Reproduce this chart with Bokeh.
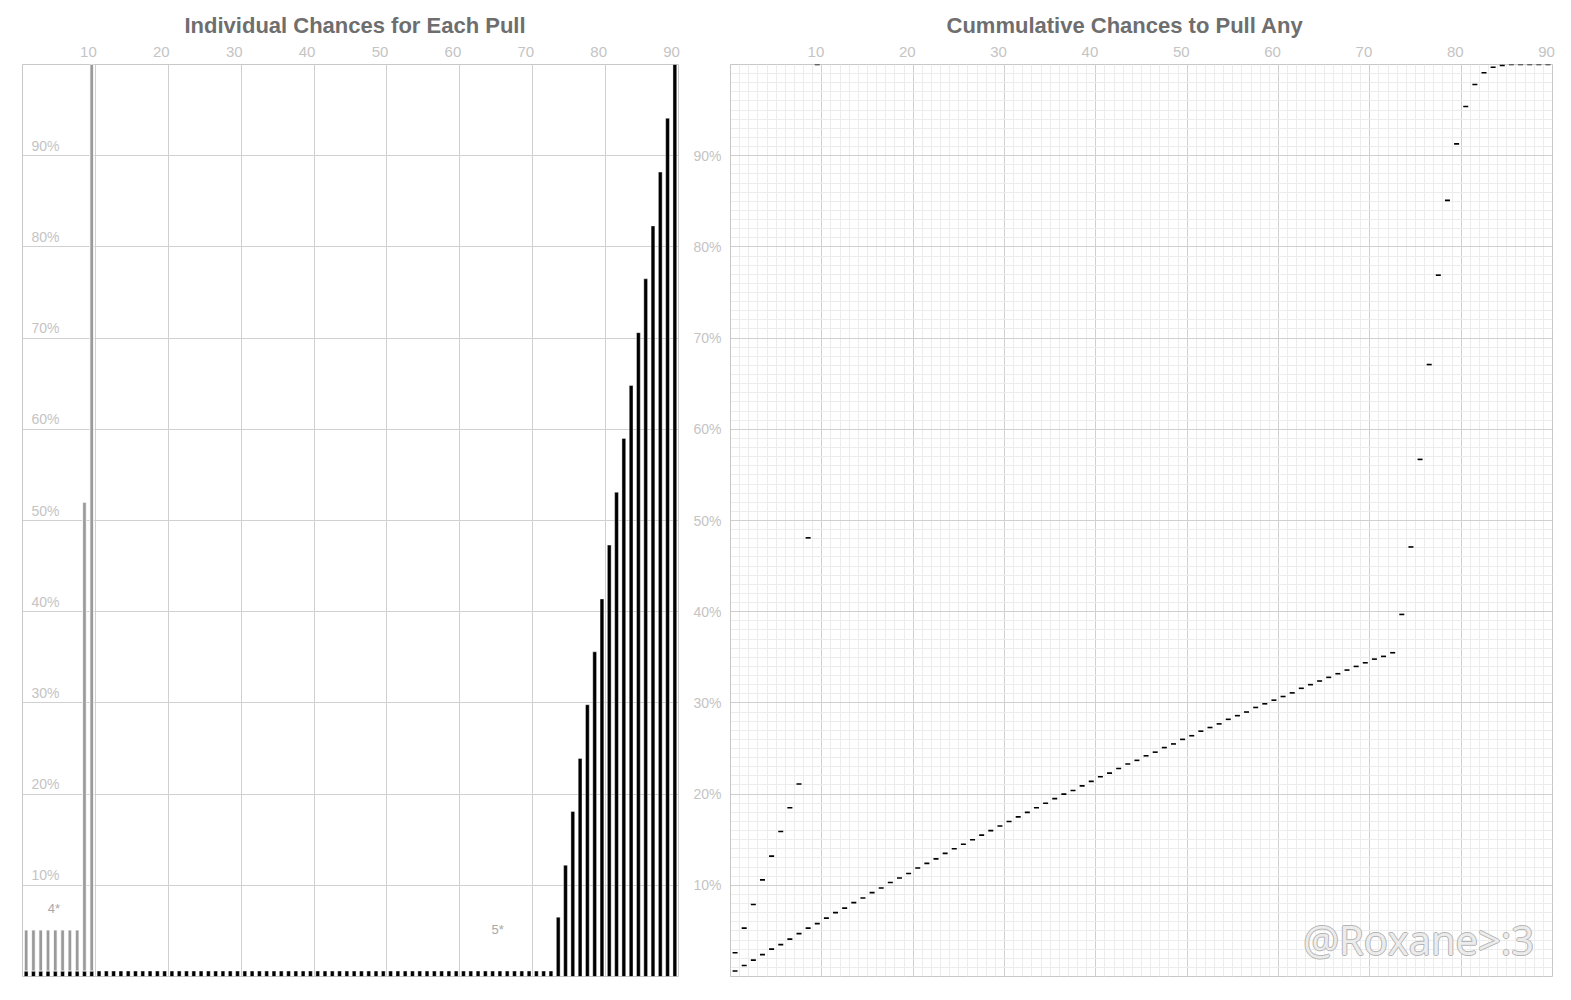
from bokeh.plotting import figure
from bokeh.layouts import row
from bokeh.models import (FixedTicker, PrintfTickFormatter, CustomJSTickFormatter,
                          Label, ColumnDataSource)
from bokeh.core.properties import value
from bokeh.embed import file_html
from bokeh.resources import INLINE

# pulls 1..90
pulls = list(range(1, 91))

# individual 5* chance per pull (%)
five_rate = [
    0.6, 0.6, 0.6, 0.6, 0.6, 0.6, 0.6, 0.6, 0.6, 0.6,
    0.6, 0.6, 0.6, 0.6, 0.6, 0.6, 0.6, 0.6, 0.6, 0.6,
    0.6, 0.6, 0.6, 0.6, 0.6, 0.6, 0.6, 0.6, 0.6, 0.6,
    0.6, 0.6, 0.6, 0.6, 0.6, 0.6, 0.6, 0.6, 0.6, 0.6,
    0.6, 0.6, 0.6, 0.6, 0.6, 0.6, 0.6, 0.6, 0.6, 0.6,
    0.6, 0.6, 0.6, 0.6, 0.6, 0.6, 0.6, 0.6, 0.6, 0.6,
    0.6, 0.6, 0.6, 0.6, 0.6, 0.6, 0.6, 0.6, 0.6, 0.6,
    0.6, 0.6, 0.6, 6.5, 12.2, 18.1, 23.9, 29.8, 35.6, 41.4,
    47.3, 53.1, 59.0, 64.8, 70.6, 76.5, 82.3, 88.2, 94.1, 100.0,
]

# individual 4* chance per pull (%), pulls 1..10
four_pulls = [1, 2, 3, 4, 5, 6, 7, 8, 9, 10]
four_rate = [5.1, 5.1, 5.1, 5.1, 5.1, 5.1, 5.1, 5.1, 52.0, 100.0]

# cumulative chance (%)
four_cum = [2.6, 5.3, 7.9, 10.6, 13.2, 15.9, 18.5, 21.1, 48.1, 100.0]
five_cum = [
    0.6, 1.2, 1.8, 2.4, 3.0, 3.5, 4.1, 4.7, 5.3, 5.8,
    6.4, 7.0, 7.5, 8.1, 8.6, 9.2, 9.7, 10.3, 10.8, 11.3,
    11.9, 12.4, 12.9, 13.5, 14.0, 14.5, 15.0, 15.5, 16.0, 16.5,
    17.0, 17.5, 18.0, 18.5, 19.0, 19.5, 20.0, 20.4, 20.9, 21.4,
    21.9, 22.3, 22.8, 23.3, 23.7, 24.2, 24.6, 25.1, 25.5, 26.0,
    26.4, 26.9, 27.3, 27.7, 28.2, 28.6, 29.0, 29.5, 29.9, 30.3,
    30.7, 31.1, 31.6, 32.0, 32.4, 32.8, 33.2, 33.6, 34.0, 34.4,
    34.8, 35.1, 35.5, 39.7, 47.1, 56.7, 67.1, 76.9, 85.1, 91.3,
    95.4, 97.8, 99.1, 99.7, 99.9, 100.0, 100.0, 100.0, 100.0, 100.0,
]

x_ticks = [10, 20, 30, 40, 50, 60, 70, 80, 90]
y_ticks = [10, 20, 30, 40, 50, 60, 70, 80, 90]
y_tick_labels = ["10%", "20%", "30%", "40%", "50%", "60%", "70%", "80%", "90%"]

FONT = "Liberation Sans"
TITLE_COLOR = "#6e6e6e"
TICK_COLOR = "#c4c4c4"
GRID_COLOR = "#d0d0d0"


def style(p, title, offset, label_shift):
    p.title.text = title
    p.title.align = "left"
    p.title.offset = offset
    p.title.text_font = FONT
    p.title.text_font_size = "22px"
    p.title.text_font_style = "bold"
    p.title.text_color = TITLE_COLOR
    p.title.standoff = 11
    p.outline_line_color = "#c8c8c8"
    p.background_fill_color = "white"
    p.border_fill_color = "white"
    # tick labels sit just left of their grid line, as in the original
    ax = p.xaxis[0]
    ax.ticker = FixedTicker(ticks=[t - label_shift for t in x_ticks])
    ax.formatter = CustomJSTickFormatter(
        args=dict(shift=label_shift), code="return Math.round(tick + shift).toString()")
    ax.axis_line_color = None
    ax.major_tick_line_color = None
    ax.minor_tick_line_color = None
    ax.major_label_text_font = FONT
    ax.major_label_text_font_size = "15px"
    ax.major_label_text_color = TICK_COLOR
    ax.major_label_standoff = 2
    p.xgrid.ticker = FixedTicker(ticks=x_ticks, minor_ticks=pulls)
    p.xgrid.grid_line_color = GRID_COLOR
    p.ygrid.grid_line_color = GRID_COLOR


# ---- left: individual chances ----
p1 = figure(width=680, height=993, x_range=(0, 90), y_range=(0, 100),
            x_axis_location="above", y_axis_location=None,
            output_backend="svg", toolbar_location=None,
            min_border_left=22, min_border_right=2, min_border_top=64,
            min_border_bottom=17)
style(p1, "Individual Chances for Each Pull", 162, 0.95)
p1.ygrid.ticker = FixedTicker(ticks=y_ticks)

five_src = ColumnDataSource(dict(x=[v - 0.5 for v in pulls], top=five_rate))
p1.vbar(x="x", top="top", bottom=0, width=0.52, source=five_src,
        fill_color="black", line_color="white", line_width=0.4)

four_src = ColumnDataSource(dict(
    x=[v - 0.5 for v in four_pulls],
    bottom=five_rate[:len(four_pulls)],
    top=four_rate,
))
p1.vbar(x="x", top="top", bottom="bottom", width=0.5, source=four_src,
        fill_color="#9a9a9a", line_color="white", line_width=0.8)

ylab_src = ColumnDataSource(dict(x=[0] * len(y_ticks), y=y_ticks, text=y_tick_labels))
p1.text(x="x", y="y", text="text", source=ylab_src, x_offset=9, y_offset=-2,
        text_baseline="bottom", text_align="left", text_font=value(FONT),
        text_font_size="14px", text_color=TICK_COLOR)

p1.add_layout(Label(x=4.3, y=7.5, text="4*", text_align="center", text_baseline="middle",
                    text_font=FONT, text_font_size="13px", text_color="#a8a8a8"))
p1.add_layout(Label(x=65.2, y=5.2, text="5*", text_align="center", text_baseline="middle",
                    text_font=FONT, text_font_size="13px", text_color="#a8a8a8"))

# ---- right: cumulative chances ----
p2 = figure(width=882, height=993, x_range=(0, 90), y_range=(0, 100),
            x_axis_location="above", y_axis_location="left",
            output_backend="svg", toolbar_location=None,
            min_border_left=50, min_border_right=10, min_border_top=64,
            min_border_bottom=17)
style(p2, "Cummulative Chances to Pull Any", 216, 0.65)
yax = p2.yaxis[0]
yax.ticker = FixedTicker(ticks=y_ticks, minor_ticks=list(range(0, 101)))
yax.formatter = PrintfTickFormatter(format="%d%%")
yax.axis_line_color = "#c8c8c8"
yax.major_tick_line_color = None
yax.minor_tick_line_color = None
yax.major_label_text_font = FONT
yax.major_label_text_font_size = "14px"
yax.major_label_text_color = TICK_COLOR
yax.major_label_standoff = 3
p2.xgrid.minor_grid_line_color = "#ececec"
p2.ygrid.minor_grid_line_color = "#ececec"

p2.scatter([v - 0.5 for v in pulls], five_cum, marker="dash", size=5,
           line_color="black", line_width=1.6)
p2.scatter([v - 0.5 for v in four_pulls], four_cum, marker="dash", size=5,
           line_color="black", line_width=1.6)

# watermark with a soft embossed edge
for dx, dy in [(-1, 0), (1, 0), (0, -1), (0, 1)]:
    p2.add_layout(Label(x=88.0, y=1.0, text="@Roxane>:3", text_align="right",
                        x_offset=dx, y_offset=dy, text_font="Open Sans",
                        text_font_size="40px", text_color="#b4b4b4"))
p2.add_layout(Label(x=88.0, y=1.0, text="@Roxane>:3", text_align="right",
                    text_font="Open Sans", text_font_size="40px", text_color="#ececec"))

layout = row(p1, p2, spacing=0)
open("out.html", "w").write(file_html(layout, INLINE))
